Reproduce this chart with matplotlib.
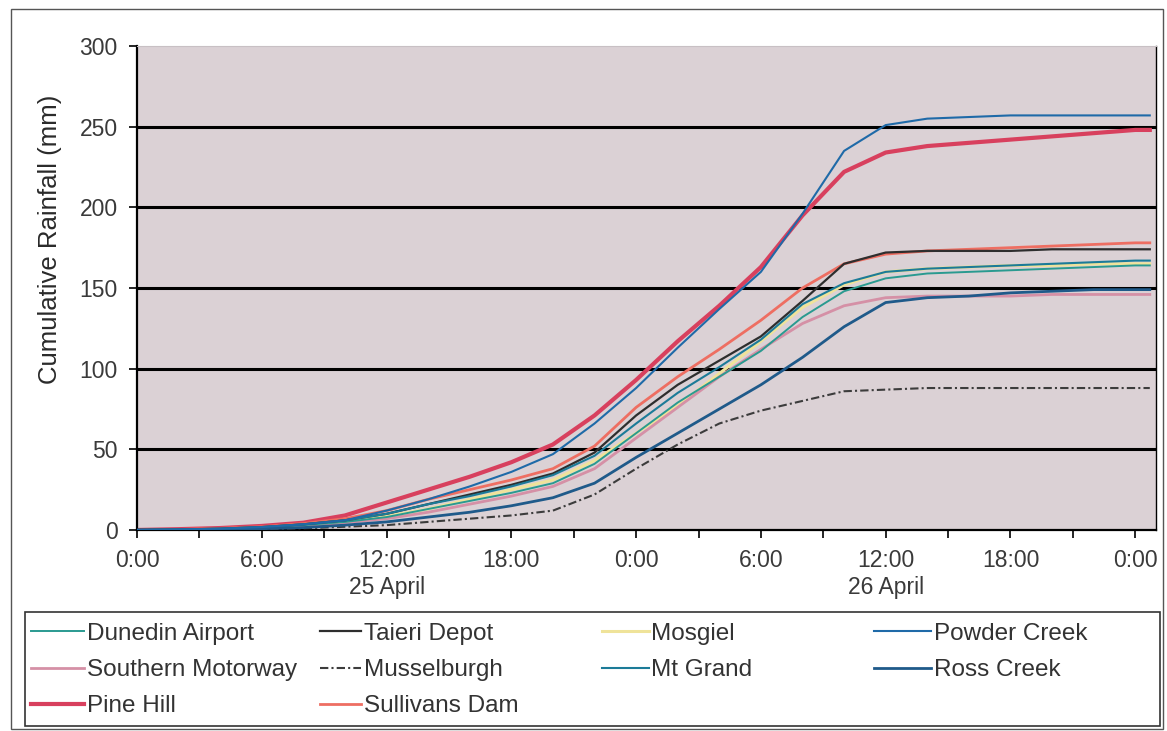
import matplotlib
matplotlib.use("Agg")
import matplotlib.pyplot as plt
from matplotlib.patches import Rectangle

plt.rcParams['font.family'] = ['Liberation Sans', 'DejaVu Sans']

# hours since 0:00 on 25 April
hours = [0, 2, 4, 6, 8, 10, 12, 14, 16, 18, 20, 22, 24, 26, 28, 30, 32, 34,
         36, 38, 40, 42, 44, 46, 48, 48.7]

# cumulative rainfall (mm)
dunedin_airport = [0, 0.2, 0.6, 1.4, 3, 5, 8, 13, 18, 23, 29, 41, 60, 79, 95, 111,
                   132, 148, 156, 159, 160, 161, 162, 163, 164, 164]
taieri_depot = [0, 0.3, 0.8, 1.8, 3.5, 6, 10, 16, 22, 28, 35, 48, 71, 90, 105, 120,
                142, 165, 172, 173, 173, 173, 174, 174, 174, 174]
mosgiel = [0, 0.2, 0.6, 1.4, 3, 5, 8.5, 13, 19, 25, 31, 43, 60, 77, 97, 117,
           138, 152, 160, 162, 163, 164, 164, 165, 165, 165]
powder_creek = [0, 0.3, 0.8, 1.8, 3.5, 6, 12, 19, 27, 36, 47, 66, 88, 113, 137, 160,
                196, 235, 251, 255, 256, 257, 257, 257, 257, 257]
southern_motorway = [0, 0.2, 0.5, 1.2, 2.5, 4.5, 7, 11, 16, 21, 27, 38, 57, 76, 95, 112,
                     128, 139, 144, 145, 145, 145, 146, 146, 146, 146]
musselburgh = [0, 0, 0.2, 0.5, 1, 2, 3, 5, 7, 9, 12, 22, 38, 53, 66, 74,
               80, 86, 87, 88, 88, 88, 88, 88, 88, 88]
mt_grand = [0, 0.3, 0.8, 1.8, 3.5, 6, 10, 16, 21, 27, 34, 46, 66, 85, 101, 118,
            140, 153, 160, 162, 163, 164, 165, 166, 167, 167]
ross_creek = [0, 0, 0.3, 0.8, 1.5, 3, 5, 8, 11, 15, 20, 29, 45, 60, 75, 90,
              107, 126, 141, 144, 145, 147, 148, 149, 149, 149]
pine_hill = [0, 0.5, 1.2, 2.5, 4.5, 9, 17, 25, 33, 42, 53, 71, 93, 117, 139, 163,
             195, 222, 234, 238, 240, 242, 244, 246, 248, 248]
sullivans_dam = [0, 0.3, 1, 2, 4, 7, 12, 19, 25, 31, 38, 52, 76, 95, 112, 130,
                 150, 165, 171, 173, 174, 175, 176, 177, 178, 178]

xtick_hours = [0, 6, 12, 18, 24, 30, 36, 42, 48]
xtick_labels = ['0:00', '6:00', '12:00\n25 April', '18:00', '0:00', '6:00',
                '12:00\n26 April', '18:00', '0:00']

fig = plt.figure(figsize=(11.67, 7.31), dpi=100)
ax = fig.add_axes([0.1174, 0.275, 0.8732, 0.662])
ax.set_facecolor('#dbd1d5')

# horizontal gridlines as in the scanned excel chart
for yv in [50, 100, 150, 200, 250]:
    ax.axhline(yv, color='black', lw=2.2, zorder=1)

lines = {}
lines['Dunedin Airport'], = ax.plot(hours, dunedin_airport, color='#2a9a90', lw=1.4, zorder=3)
lines['Taieri Depot'], = ax.plot(hours, taieri_depot, color='#2e2e2e', lw=1.6, zorder=3)
lines['Mosgiel'], = ax.plot(hours, mosgiel, color='#efe39a', lw=2.2, zorder=2)
lines['Powder Creek'], = ax.plot(hours, powder_creek, color='#1f6aa8', lw=1.5, zorder=4)
lines['Southern Motorway'], = ax.plot(hours, southern_motorway, color='#d590a6', lw=2.0, zorder=2)
lines['Musselburgh'], = ax.plot(hours, musselburgh, color='#3c3c3c', lw=1.5,
                                linestyle=(0, (4, 1.5, 1, 1.5)), zorder=3)
lines['Mt Grand'], = ax.plot(hours, mt_grand, color='#1c7b98', lw=1.5, zorder=3)
lines['Ross Creek'], = ax.plot(hours, ross_creek, color='#1f5a8a', lw=2.0, zorder=3)
lines['Pine Hill'], = ax.plot(hours, pine_hill, color='#d8405e', lw=3.0, zorder=2)
lines['Sullivans Dam'], = ax.plot(hours, sullivans_dam, color='#ee6e62', lw=2.0, zorder=2)

ax.set_xlim(0, 49)
ax.set_ylim(0, 300)
ax.set_yticks([0, 50, 100, 150, 200, 250, 300])
ax.set_xticks(xtick_hours)
ax.set_xticklabels(xtick_labels)
ax.set_xticks(range(3, 49, 6), minor=True)
ax.tick_params(axis='both', which='both', direction='out', length=6, width=1.2,
               color='black', labelsize=16.5, labelcolor='#3a3a3a')
ax.tick_params(axis='y', pad=8)
ax.tick_params(axis='x', pad=8)

for s in ['left', 'bottom', 'right']:
    ax.spines[s].set_color('black')
ax.spines['left'].set_linewidth(1.6)
ax.spines['bottom'].set_linewidth(1.6)
ax.spines['right'].set_linewidth(1.0)
ax.spines['top'].set_color('#c8c0c4')

ax.set_ylabel('Cumulative Rainfall (mm)', fontsize=18.5, color='#2a2a2a')
ax.yaxis.set_label_coords(-0.074, 0.6)

# legend: excel style, 4 equal-width columns filled row by row
columns = [['Dunedin Airport', 'Southern Motorway', 'Pine Hill'],
           ['Taieri Depot', 'Musselburgh', 'Sullivans Dam'],
           ['Mosgiel', 'Mt Grand'],
           ['Powder Creek', 'Ross Creek']]
col_x = [0.022, 0.270, 0.512, 0.745]
handle_len = [2.2, 1.7, 1.9, 2.35]
for cx, hl, names in zip(col_x, handle_len, columns):
    fig.legend([lines[n] for n in names], names, loc='upper left',
               bbox_to_anchor=(cx, 0.1545), frameon=False, fontsize=17.5,
               handlelength=hl, handletextpad=0.12, labelspacing=0.58,
               borderaxespad=0, borderpad=0.2, labelcolor='#333333')

fig.patches.append(Rectangle((0.0214, 0.0068), 0.9726, 0.1562, transform=fig.transFigure,
                             fill=False, edgecolor='#333333', lw=1.2))
fig.patches.append(Rectangle((0.009, 0.003), 0.988, 0.985, transform=fig.transFigure,
                             fill=False, edgecolor='#555555', lw=1.0))

fig.savefig('out.png', dpi=100)
